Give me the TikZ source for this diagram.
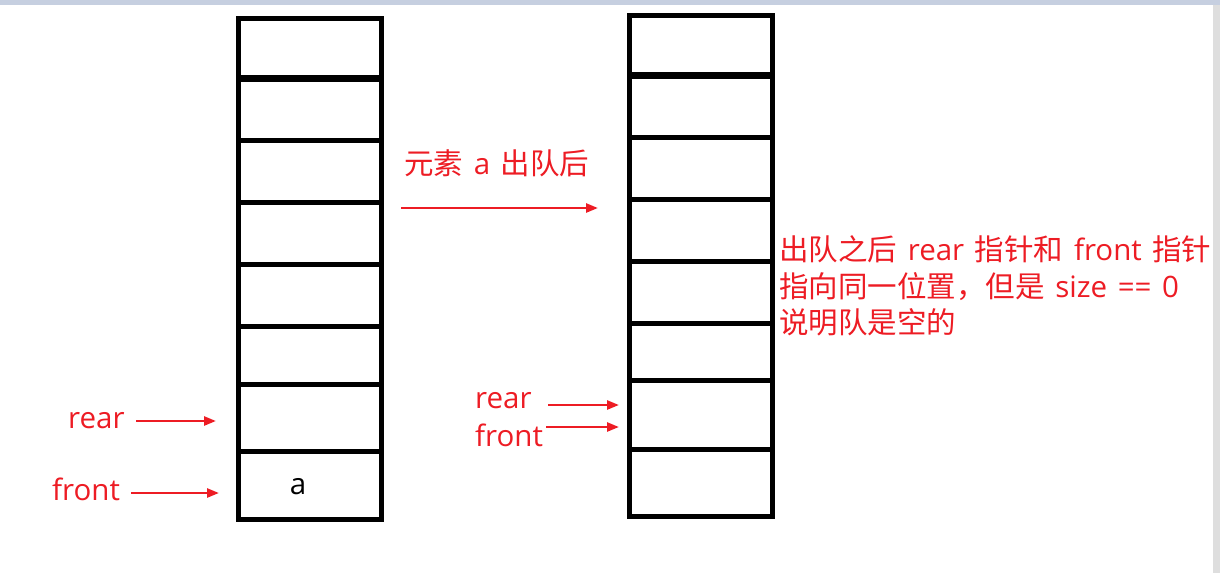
\documentclass[tikz,border=0pt]{standalone}
\usepackage{fontspec}
\setmainfont{Open Sans}
\newfontfamily\zh{Noto Sans CJK SC}
\usetikzlibrary{arrows.meta}
\definecolor{redA}{RGB}{237,28,36}
\definecolor{topbar}{RGB}{198,207,224}
\definecolor{sidebar}{RGB}{222,222,222}
\newcommand{\gapsp}{\hspace{0.36em}}
\begin{document}
\begin{tikzpicture}[x=1pt,y=-1pt,
  colline/.style={line width=5pt},
  thickline/.style={line width=7pt},
  ptr/.style={draw=redA, line width=2.5pt, -{Triangle[length=12pt,width=9pt]}},
  lbl/.style={text=redA, font=\fontsize{29.5}{37}\selectfont, inner sep=0pt, anchor=base west},
]
\useasboundingbox (0,0) rectangle (1220,573);
\fill[topbar] (0,0) rectangle (1220,5);
\fill[sidebar] (1213,5) rectangle (1220,573);

% left column
\draw[colline] (238.5,18) rectangle (381.5,519.5);
\draw[thickline] (238.5,78) -- (381.5,78);
\foreach \y in {140,202,264.5,326,384,451}
  \draw[colline] (238.5,\y) -- (381.5,\y);
\node[anchor=base, inner sep=0pt, font=\fontsize{29.5}{37}\selectfont] (a) at (298,494) {a};

% right column
\draw[colline] (629.5,15.5) rectangle (772.5,516.5);
\draw[thickline] (629.5,75) -- (772.5,75);
\foreach \y in {137.5,199.5,261.5,323.5,380.5,449}
  \draw[colline] (629.5,\y) -- (772.5,\y);

% left pointers
\node[lbl] (rearL) at (68,428) {rear};
\node[lbl] (frontL) at (52,500) {front};
\coordinate (rLs) at (136,421); \coordinate (rLe) at (216,421);
\coordinate (fLs) at (131,493); \coordinate (fLe) at (219,493);
\draw[ptr] (rLs) -- (rLe);
\draw[ptr] (fLs) -- (fLe);

% middle transition
\node[lbl] (step) at (404,174) {{\zh 元素}\gapsp a\gapsp{\zh 出队后}};
\coordinate (mS) at (401,208); \coordinate (mE) at (598,208);
\draw[ptr] (mS) -- (mE);

% right pointers
\node[lbl] (rearR) at (475,408) {rear};
\node[lbl] (frontR) at (475,446) {front};
\coordinate (rRs) at (548,405); \coordinate (rRe) at (619,405);
\coordinate (fRs) at (546,427); \coordinate (fRe) at (619,427);
\draw[ptr] (rRs) -- (rRe);
\draw[ptr] (fRs) -- (fRe);

% note
\node[lbl] (n1) at (779,260) {{\zh 出队之后}\gapsp rear\gapsp{\zh 指针和}\gapsp front\gapsp{\zh 指针}};
\node[lbl] (n2) at (779,297) {{\zh 指向同一位置，但是}\gapsp size\gapsp ==\gapsp 0};
\node[lbl] (n3) at (779,333) {{\zh 说明队是空的}};
\end{tikzpicture}
\end{document}
